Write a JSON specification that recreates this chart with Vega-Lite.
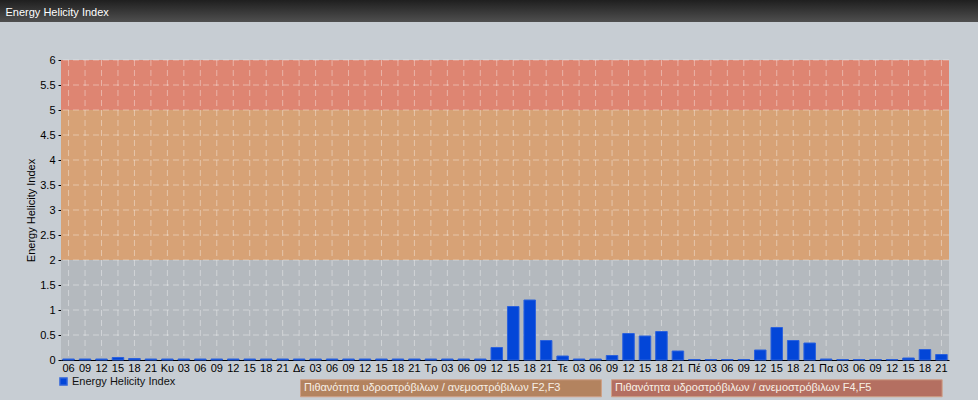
{
  "$schema": "https://vega.github.io/schema/vega-lite/v6.json",
  "background": "#c7cdd3",
  "padding": {"left": 0, "top": 0, "right": 0, "bottom": 4},
  "autosize": {"type": "pad"},
  "config": {"view": {"stroke": null}, "font": "Liberation Sans"},
  "datasets": {
    "eh": [
      {"slot": "Σα 06", "value": 0.02}, {"slot": "Σα 09", "value": 0.02}, {"slot": "Σα 12", "value": 0.02}, {"slot": "Σα 15", "value": 0.05}, {"slot": "Σα 18", "value": 0.03}, {"slot": "Σα 21", "value": 0.02},
      {"slot": "Κυ 00", "value": 0.02}, {"slot": "Κυ 03", "value": 0.02}, {"slot": "Κυ 06", "value": 0.02}, {"slot": "Κυ 09", "value": 0.02}, {"slot": "Κυ 12", "value": 0.02}, {"slot": "Κυ 15", "value": 0.02}, {"slot": "Κυ 18", "value": 0.02}, {"slot": "Κυ 21", "value": 0.02},
      {"slot": "Δε 00", "value": 0.02}, {"slot": "Δε 03", "value": 0.02}, {"slot": "Δε 06", "value": 0.02}, {"slot": "Δε 09", "value": 0.02}, {"slot": "Δε 12", "value": 0.02}, {"slot": "Δε 15", "value": 0.02}, {"slot": "Δε 18", "value": 0.02}, {"slot": "Δε 21", "value": 0.02},
      {"slot": "Τρ 00", "value": 0.02}, {"slot": "Τρ 03", "value": 0.02}, {"slot": "Τρ 06", "value": 0.02}, {"slot": "Τρ 09", "value": 0.02}, {"slot": "Τρ 12", "value": 0.25}, {"slot": "Τρ 15", "value": 1.07}, {"slot": "Τρ 18", "value": 1.2}, {"slot": "Τρ 21", "value": 0.39},
      {"slot": "Τε 00", "value": 0.08}, {"slot": "Τε 03", "value": 0.02}, {"slot": "Τε 06", "value": 0.02}, {"slot": "Τε 09", "value": 0.09}, {"slot": "Τε 12", "value": 0.53}, {"slot": "Τε 15", "value": 0.48}, {"slot": "Τε 18", "value": 0.57}, {"slot": "Τε 21", "value": 0.18},
      {"slot": "Πέ 00", "value": 0.01}, {"slot": "Πέ 03", "value": 0.01}, {"slot": "Πέ 06", "value": 0.01}, {"slot": "Πέ 09", "value": 0.01}, {"slot": "Πέ 12", "value": 0.2}, {"slot": "Πέ 15", "value": 0.65}, {"slot": "Πέ 18", "value": 0.39}, {"slot": "Πέ 21", "value": 0.34},
      {"slot": "Πα 00", "value": 0.02}, {"slot": "Πα 03", "value": 0.01}, {"slot": "Πα 06", "value": 0.01}, {"slot": "Πα 09", "value": 0.01}, {"slot": "Πα 12", "value": 0.01}, {"slot": "Πα 15", "value": 0.04}, {"slot": "Πα 18", "value": 0.21}, {"slot": "Πα 21", "value": 0.11}
    ],
    "zones": [
      {"zone": "Χαμηλή πιθανότητα", "from": 0, "to": 2},
      {"zone": "Πιθανότητα υδροστρόβιλων / ανεμοστρόβιλων F2,F3", "from": 2, "to": 5},
      {"zone": "Πιθανότητα υδροστρόβιλων / ανεμοστρόβιλων F4,F5", "from": 5, "to": 6}
    ],
    "levels": [
      {"level": 0.5}, {"level": 1}, {"level": 1.5}, {"level": 2}, {"level": 2.5}, {"level": 3},
      {"level": 3.5}, {"level": 4}, {"level": 4.5}, {"level": 5}, {"level": 5.5}, {"level": 6}
    ],
    "header": [{"name": "header"}],
    "spacer": [{"name": "spacer"}]
  },
  "bounds": "flush",
  "spacing": 38,
  "vconcat": [
    {
      "width": 978,
      "height": 22,
      "data": {"name": "header"},
      "mark": {"type": "rect", "fill": {"gradient": "linear", "x1": 0, "y1": 0, "x2": 0, "y2": 1, "stops": [{"offset": 0, "color": "#1f1f1f"}, {"offset": 1, "color": "#4f4f4f"}]}},
      "encoding": {
        "x": {
          "field": "name", "type": "nominal",
          "scale": {"paddingInner": 0, "paddingOuter": 0},
          "axis": {
            "orient": "top", "title": "Energy Helicity Index", "domain": false, "ticks": false, "labels": false, "grid": false,
            "titleX": 5, "titleY": 15, "titleAlign": "left", "titleAnchor": "start", "titleBaseline": "alphabetic", "titleAngle": 0,
            "titleColor": "#ffffff", "titleFontSize": 11, "titleFontWeight": "normal", "titleFont": "Liberation Sans"
          }
        }
      }
    },
    {
      "bounds": "flush",
      "spacing": 0,
      "hconcat": [
        {
          "width": 61,
          "height": 300,
          "data": {"name": "spacer"},
          "mark": {"type": "rect", "fillOpacity": 0, "strokeOpacity": 0}
        },
        {
          "width": 888,
          "height": 300,
          "resolve": {"scale": {"color": "independent", "fill": "independent"}},
          "layer": [
            {
              "data": {"name": "zones"},
              "mark": {"type": "rect"},
              "encoding": {
                "y": {
                  "field": "from", "type": "quantitative", "scale": {"domain": [0, 6], "nice": false},
                  "axis": {
                    "title": "Energy Helicity Index", "values": [0, 0.5, 1, 1.5, 2, 2.5, 3, 3.5, 4, 4.5, 5, 5.5, 6],
                    "format": "~g", "grid": false, "tickSize": 3, "tickColor": "#000000", "labelPadding": 3,
                    "labelFontSize": 11, "labelColor": "#000000", "domainColor": "#000000",
                    "titleFontSize": 11, "titleFontWeight": "normal", "titleColor": "#000000", "titlePadding": 3
                  }
                },
                "y2": {"field": "to"},
                "fill": {
                  "field": "zone", "type": "nominal",
                  "scale": {"domain": ["Χαμηλή πιθανότητα", "Πιθανότητα υδροστρόβιλων / ανεμοστρόβιλων F2,F3", "Πιθανότητα υδροστρόβιλων / ανεμοστρόβιλων F4,F5"], "range": ["#b4b9be", "#d7a276", "#de8572"]},
                  "legend": null
                }
              }
            },
            {
              "data": {"name": "levels"},
              "mark": {"type": "rule", "stroke": "#ffffff", "strokeOpacity": 0.38, "strokeDash": [6, 4], "strokeWidth": 1},
              "encoding": {
                "y": {
                  "field": "level", "type": "quantitative", "scale": {"domain": [0, 6], "nice": false},
                  "axis": {
                    "title": "Energy Helicity Index", "values": [0, 0.5, 1, 1.5, 2, 2.5, 3, 3.5, 4, 4.5, 5, 5.5, 6],
                    "format": "~g", "grid": false, "tickSize": 3, "tickColor": "#000000", "labelPadding": 3,
                    "labelFontSize": 11, "labelColor": "#000000", "domainColor": "#000000",
                    "titleFontSize": 11, "titleFontWeight": "normal", "titleColor": "#000000", "titlePadding": 3
                  }
                }
              }
            },
            {
              "data": {"name": "eh"},
              "mark": {"type": "rule", "stroke": "#ffffff", "strokeOpacity": 0.38, "strokeDash": [6, 4], "strokeWidth": 1},
              "encoding": {
                "x": {
                  "field": "slot", "type": "nominal", "sort": null,
                  "scale": {"paddingInner": 0.3, "paddingOuter": 0.11},
                  "axis": {
                    "title": null, "labelAngle": 0, "ticks": false, "grid": false, "labelPadding": 2,
                    "labelFontSize": 11, "labelColor": "#000000", "domainColor": "#000000", "labelOverlap": false,
                    "labelExpr": "split(datum.value, ' ')[1] == '00' ? split(datum.value, ' ')[0] : split(datum.value, ' ')[1]"
                  }
                }
              }
            },
            {
              "data": {"name": "eh"},
              "mark": {"type": "bar", "stroke": "#2d62dc", "strokeWidth": 1},
              "encoding": {
                "x": {
                  "field": "slot", "type": "nominal", "sort": null,
                  "scale": {"paddingInner": 0.3, "paddingOuter": 0.11},
                  "axis": {
                    "title": null, "labelAngle": 0, "ticks": false, "grid": false, "labelPadding": 2,
                    "labelFontSize": 11, "labelColor": "#000000", "domainColor": "#000000", "labelOverlap": false,
                    "labelExpr": "split(datum.value, ' ')[1] == '00' ? split(datum.value, ' ')[0] : split(datum.value, ' ')[1]"
                  }
                },
                "y": {
                  "field": "value", "type": "quantitative",
                  "scale": {"domain": [0, 6], "nice": false},
                  "axis": {
                    "title": "Energy Helicity Index", "values": [0, 0.5, 1, 1.5, 2, 2.5, 3, 3.5, 4, 4.5, 5, 5.5, 6],
                    "format": "~g", "grid": false, "tickSize": 3, "tickColor": "#000000", "labelPadding": 3,
                    "labelFontSize": 11, "labelColor": "#000000", "domainColor": "#000000",
                    "titleFontSize": 11, "titleFontWeight": "normal", "titleColor": "#000000", "titlePadding": 3
                  }
                },
                "color": {
                  "datum": "Energy Helicity Index",
                  "scale": {"range": ["#0346d8"]},
                  "legend": {
                    "orient": "none", "legendX": -3, "legendY": 316, "title": null, "symbolType": "square",
                    "symbolSize": 49, "labelFontSize": 11, "labelColor": "#111111", "labelOffset": 3, "padding": 0
                  }
                }
              }
            },
            {
              "data": {"name": "zones"},
              "transform": [{"filter": "datum.to > 6"}],
              "mark": {"type": "rect"},
              "encoding": {
                "color": {
                  "field": "zone", "type": "nominal",
                  "scale": {"domain": ["Πιθανότητα υδροστρόβιλων / ανεμοστρόβιλων F2,F3", "Πιθανότητα υδροστρόβιλων / ανεμοστρόβιλων F4,F5"], "range": ["#b3835f", "#b46f61"]},
                  "legend": {
                    "orient": "none", "legendX": 239, "legendY": 319, "direction": "horizontal", "title": null,
                    "symbolSize": 289, "labelOffset": -14, "labelFontSize": 11, "labelColor": "#f7efe6", "labelLimit": 400,
                    "columnPadding": 5, "padding": 0, "symbolStrokeWidth": 1, "symbolStrokeColor": "#cf9f86",
                    "encode": {"symbols": {"update": {
                      "shape": {"signal": "indexof(datum.value, 'F2') >= 0 ? 'M-1,-1H34.4V1H-1Z' : 'M-1,-1H37.9V1H-1Z'"}
                    }}}
                  }
                }
              }
            }
          ]
        }
      ]
    }
  ]
}
